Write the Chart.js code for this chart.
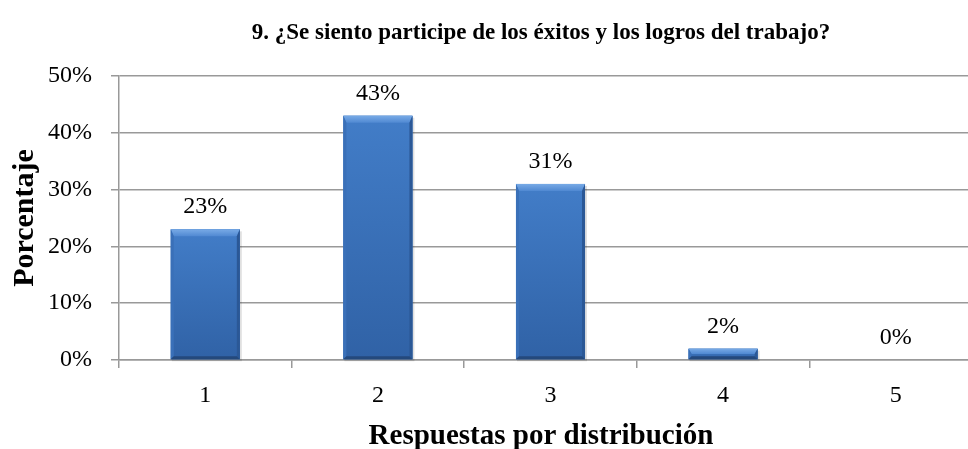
<!DOCTYPE html>
<html>
<head>
<meta charset="utf-8">
<script src="https://cdn.jsdelivr.net/npm/chart.js@4.4.1/dist/chart.umd.min.js"></script>
<style>
  html, body { margin: 0; padding: 0; background: #fff; overflow: hidden; }
  #wrap { width: 982px; height: 449px; }
</style>
</head>
<body>
<!-- the plot runs a little past the right edge of the 968px view -->
<div id="wrap"><canvas id="chart" width="982" height="449"></canvas></div>
<script>
var categories = ['1', '2', '3', '4', '5'];
var percentages = [23, 43, 31, 2, 0];
var yTicks = [0, 10, 20, 30, 40, 50];
var chartTitle = '9. ¿Se siento participe de los éxitos y los logros del trabajo?';
var xTitle = 'Respuestas por distribución';
var yTitle = 'Porcentaje';

var serif = "'Liberation Serif', 'Times New Roman', serif";
var gridGray = '#999999';
var titleCenterX = 541;

function facet(ctx, color, pts) {
    ctx.fillStyle = color;
    ctx.beginPath();
    ctx.moveTo(pts[0], pts[1]);
    for (var k = 2; k < pts.length; k += 2) ctx.lineTo(pts[k], pts[k + 1]);
    ctx.closePath();
    ctx.fill();
}

// bevelled bar faces and the value labels above each bar
var bevelBars = {
    id: 'bevelBars',
    afterDatasetsDraw: function (chart) {
        var ctx = chart.ctx;
        var meta = chart.getDatasetMeta(0);
        meta.data.forEach(function (bar, i) {
            var l = bar.x - bar.width / 2, r = bar.x + bar.width / 2;
            var t = bar.y, b = bar.base;
            var h = b - t;
            if (h > 0.5) {
                var et = Math.min(7, h / 2);   // top bevel
                var es = Math.min(3, h / 2);   // sides and bottom
                ctx.save();
                // soft shadow under the bar
                ctx.fillStyle = 'rgba(0,0,0,0.12)';
                ctx.fillRect(l + 1, t + 2, r - l + 1, h);
                var face = ctx.createLinearGradient(0, t, 0, b);
                face.addColorStop(0, '#427dc8');
                face.addColorStop(1, '#3062a6');
                ctx.fillStyle = face;
                ctx.fillRect(l, t, r - l, h);
                var top = ctx.createLinearGradient(0, t, 0, t + et);
                top.addColorStop(0, '#78aae6');
                top.addColorStop(1, '#5089d2');
                facet(ctx, top, [l, t, r, t, r - es, t + et, l + es, t + et]);
                facet(ctx, '#3a70b8', [l, t, l + es, t + et, l + es, b - es, l, b]);
                facet(ctx, '#2b5896', [r, t, r - es, t + et, r - es, b - es, r, b]);
                facet(ctx, '#24497c', [l, b, l + es, b - es, r - es, b - es, r, b]);
                ctx.restore();
            }
            ctx.save();
            ctx.font = '24px ' + serif;
            ctx.fillStyle = '#000';
            ctx.textAlign = 'center';
            ctx.textBaseline = 'alphabetic';
            ctx.fillText(percentages[i] + '%', bar.x, t - 16);
            ctx.restore();
        });
    }
};

// chart title and x axis title, centred on the visible part of the plot
var titles = {
    id: 'titles',
    afterDraw: function (chart) {
        var ctx = chart.ctx;
        ctx.save();
        ctx.fillStyle = '#000';
        ctx.textAlign = 'center';
        ctx.textBaseline = 'middle';
        ctx.font = 'bold 23px ' + serif;
        ctx.fillText(chartTitle, titleCenterX, 33);
        ctx.font = 'bold 29px ' + serif;
        ctx.fillText(xTitle, titleCenterX, 437);
        ctx.restore();
    }
};

new Chart(document.getElementById('chart'), {
    type: 'bar',
    data: {
        labels: categories,
        datasets: [{
            data: percentages,
            backgroundColor: '#3d74ba',
            borderWidth: 0,
            categoryPercentage: 1,
            barPercentage: 0.4
        }]
    },
    options: {
        responsive: false,
        animation: false,
        events: [],
        layout: { padding: { left: 8, right: 0, top: 76, bottom: 0 } },
        plugins: {
            legend: { display: false },
            tooltip: { enabled: false },
            title: { display: false }
        },
        scales: {
            x: {
                grid: {
                    drawOnChartArea: false,
                    drawTicks: true,
                    tickLength: 8,
                    tickColor: gridGray,
                    lineWidth: 1.5,
                    offset: true
                },
                border: { display: true, color: gridGray, width: 1.5 },
                ticks: {
                    color: '#000',
                    font: { family: serif, size: 24 },
                    padding: 13
                },
                afterFit: function (scale) { scale.height = 89; }
            },
            y: {
                min: 0,
                max: 50,
                afterBuildTicks: function (scale) {
                    scale.ticks = yTicks.map(function (v) { return { value: v }; });
                },
                grid: {
                    color: gridGray,
                    lineWidth: 1.5,
                    tickLength: 8,
                    tickColor: gridGray
                },
                border: { display: true, color: gridGray, width: 1.5 },
                ticks: {
                    color: '#000',
                    font: { family: serif, size: 24 },
                    padding: 19,
                    callback: function (v) { return v + '%'; }
                },
                title: {
                    display: true,
                    text: yTitle,
                    color: '#000',
                    font: { family: serif, size: 30, weight: 'bold', lineHeight: 1 },
                    padding: { top: 2, bottom: 0 }
                },
                afterFit: function (scale) { scale.width = 111; }
            }
        }
    },
    plugins: [bevelBars, titles]
});
</script>
</body>
</html>
